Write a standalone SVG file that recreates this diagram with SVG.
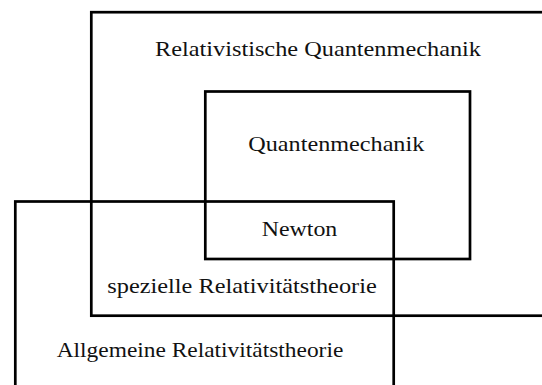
<svg xmlns="http://www.w3.org/2000/svg" width="542" height="385" viewBox="0 0 542 385">
  <style>
    .box { fill: none; stroke: #000; stroke-width: 2.7; }
    .lbl { font-family: "Liberation Serif", "DejaVu Serif", serif; font-size: 21px; fill: #111; text-anchor: start; }
  </style>
  <rect width="542" height="385" fill="#fff"/>

  <!-- Relativistische Quantenmechanik: outermost region, runs off the right edge -->
  <g id="rel-qm">
    <rect class="box" x="91.3" y="12.2" width="460" height="303.5"/>
    <text class="lbl" x="155" y="56" textLength="326" lengthAdjust="spacingAndGlyphs">Relativistische Quantenmechanik</text>
  </g>

  <!-- Quantenmechanik -->
  <g id="qm">
    <rect class="box" x="205.3" y="91.5" width="264.7" height="167.5"/>
    <text class="lbl" x="248.3" y="151" textLength="176" lengthAdjust="spacingAndGlyphs">Quantenmechanik</text>
  </g>

  <!-- Allgemeine Relativitätstheorie: runs off the bottom edge -->
  <g id="art">
    <rect class="box" x="15.3" y="201.5" width="378.4" height="220"/>
    <text class="lbl" x="56.7" y="356.7" textLength="286.6" lengthAdjust="spacingAndGlyphs">Allgemeine Relativitätstheorie</text>
  </g>

  <!-- overlap labels -->
  <g id="newton">
    <text class="lbl" x="261.7" y="236" textLength="75.6" lengthAdjust="spacingAndGlyphs">Newton</text>
  </g>
  <g id="srt">
    <text class="lbl" x="107.3" y="293.3" textLength="269.4" lengthAdjust="spacingAndGlyphs">spezielle Relativitätstheorie</text>
  </g>
</svg>
